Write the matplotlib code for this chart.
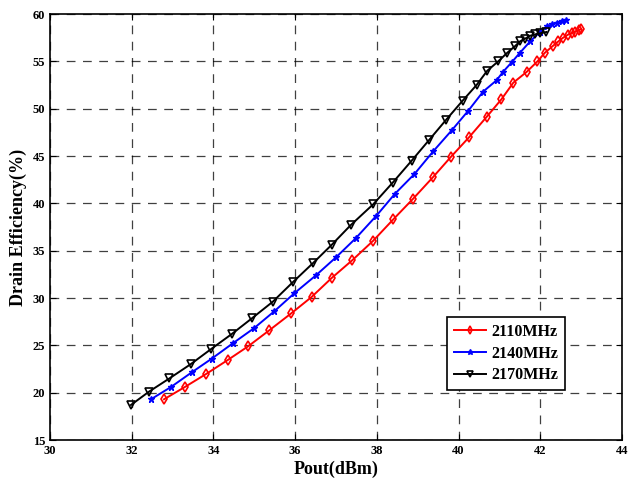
import numpy as np
import matplotlib
matplotlib.use('Agg')
import matplotlib.pyplot as plt

plt.rcParams['font.family'] = ['Liberation Serif', 'DejaVu Serif']
plt.rcParams['font.weight'] = 'bold'

# data
x_2110 = [32.79, 33.30, 33.83, 34.35, 34.85, 35.37, 35.91, 36.40, 36.89, 37.40, 37.91, 38.40,
          38.89, 39.37, 39.81, 40.26, 40.69, 41.05, 41.34, 41.67, 41.93, 42.11, 42.30, 42.44,
          42.56, 42.67, 42.77, 42.86, 42.94, 43.00]
y_2110 = [19.3, 20.6, 22.0, 23.45, 24.9, 26.6, 28.4, 30.1, 32.1, 34.0, 36.05, 38.3,
          40.5, 42.75, 44.9, 47.0, 49.15, 51.0, 52.75, 53.9, 55.0, 55.9, 56.6, 57.1,
          57.5, 57.8, 58.0, 58.15, 58.3, 58.4]

x_2140 = [32.47, 32.96, 33.47, 33.96, 34.47, 34.99, 35.49, 35.98, 36.51, 37.00, 37.48, 37.99,
          38.44, 38.92, 39.38, 39.83, 40.24, 40.60, 40.93, 41.09, 41.30, 41.50, 41.75, 41.99,
          42.16, 42.28, 42.40, 42.52, 42.63]
y_2140 = [19.3, 20.6, 22.15, 23.6, 25.2, 26.8, 28.6, 30.5, 32.4, 34.3, 36.3, 38.7,
          41.0, 43.1, 45.5, 47.7, 49.8, 51.8, 53.0, 53.9, 54.9, 55.9, 57.1, 58.1,
          58.7, 58.9, 59.1, 59.26, 59.37]

x_2170 = [31.98, 32.42, 32.92, 33.44, 33.94, 34.45, 34.94, 35.45, 35.95, 36.44, 36.89, 37.36,
          37.91, 38.39, 38.85, 39.28, 39.69, 40.10, 40.44, 40.70, 40.97, 41.19, 41.38, 41.50,
          41.63, 41.75, 41.87, 41.99, 42.15]
y_2170 = [18.7, 20.1, 21.5, 23.0, 24.6, 26.2, 27.85, 29.6, 31.7, 33.7, 35.6, 37.7,
          39.9, 42.2, 44.5, 46.7, 48.8, 50.85, 52.5, 54.0, 55.0, 55.9, 56.6, 57.1,
          57.4, 57.7, 57.85, 57.95, 58.1]

fig = plt.figure(figsize=(6.37, 4.83), dpi=100)
ax = fig.add_axes([0.0785, 0.089, 0.898, 0.882])

ax.plot(x_2110, y_2110, color='red', lw=1.4, marker='d', ms=5, mfc='none', mew=1.2, label='2110MHz')
ax.plot(x_2140, y_2140, color='blue', lw=1.4, marker='*', ms=5, mew=1.0, label='2140MHz')
ax.plot(x_2170, y_2170, color='black', lw=1.4, marker='v', ms=6, mfc='none', mew=1.2, label='2170MHz')

ax.set_xlim(30, 44)
ax.set_ylim(15, 60)
ax.set_xticks(np.arange(30, 45, 2))
ax.set_yticks(np.arange(15, 61, 5))
ax.grid(True, color='black', ls=(0, (7, 6)), lw=0.9, alpha=0.75)
ax.tick_params(direction='in', top=True, right=True, labelsize=9, length=4)
for lab in ax.get_xticklabels() + ax.get_yticklabels():
    lab.set_fontweight('bold')
for s in ax.spines.values():
    s.set_linewidth(1.2)

ax.set_xlabel('Pout(dBm)', fontsize=13, fontweight='bold', labelpad=3)
ax.set_ylabel('Drain Efficiency(%)', fontsize=13, fontweight='bold', labelpad=4)

leg = ax.legend(loc='upper left', bbox_to_anchor=(0.694, 0.289), borderaxespad=0,
                fancybox=False, edgecolor='black', framealpha=1,
                prop={'weight': 'bold', 'size': 11.5}, markerscale=0.75,
                handlelength=2.0, handletextpad=0.3, borderpad=0.45, labelspacing=0.35)
leg.get_frame().set_linewidth(1.2)

plt.savefig('out.png', dpi=100)
